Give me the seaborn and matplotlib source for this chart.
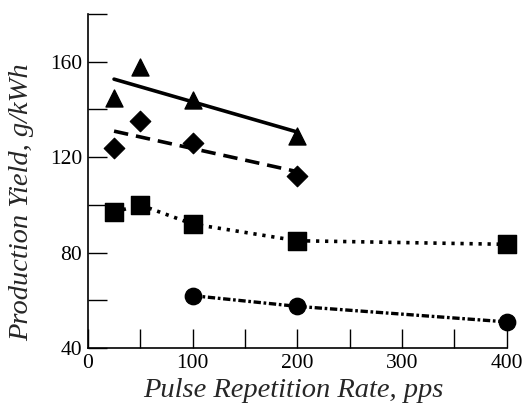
import numpy as np
import pandas as pd
import seaborn as sns
import matplotlib.pyplot as plt
from matplotlib.ticker import MultipleLocator

# data
rate_tri = [25, 50, 100, 200]
yield_tri = [145, 158, 144, 129]

rate_dia = [25, 50, 100, 200]
yield_dia = [124, 135, 126, 112]

rate_sq = [25, 50, 100, 200, 400]
yield_sq = [97, 100, 92, 85, 83.5]

rate_circ = [100, 200, 400]
yield_circ = [62, 57.5, 51]

sns.set_theme(style="ticks")
plt.rcParams['font.family'] = ['Liberation Serif', 'DejaVu Serif']

fig = plt.figure(figsize=(5.23, 4.12), dpi=100)
ax = fig.add_axes([0.168, 0.155, 0.801, 0.811])

# fitted lines (triangles solid, diamonds dashed)
sns.regplot(x=rate_tri, y=yield_tri, ax=ax, scatter=False, ci=None, truncate=True,
            line_kws=dict(color='black', lw=2.6, ls='-'))
sns.regplot(x=rate_dia, y=yield_dia, ax=ax, scatter=False, ci=None, truncate=True,
            line_kws=dict(color='black', lw=2.6, ls=(0, (4, 2.2))))

# connected series
sns.lineplot(x=rate_sq, y=yield_sq, ax=ax, color='black', lw=2.6, ls=(0, (0.9, 1.6)))
sns.lineplot(x=rate_circ, y=yield_circ, ax=ax, color='black', lw=2.4, ls=(0, (2.2, 0.8, 0.8, 0.8)))

# markers
sns.scatterplot(x=rate_tri, y=yield_tri, ax=ax, marker='^', s=150, color='black', edgecolor='black', zorder=5, clip_on=False)
sns.scatterplot(x=rate_dia, y=yield_dia, ax=ax, marker='D', s=110, color='black', edgecolor='black', zorder=5, clip_on=False)
sns.scatterplot(x=rate_sq, y=yield_sq, ax=ax, marker='s', s=170, color='black', edgecolor='black', zorder=5, clip_on=False)
sns.scatterplot(x=rate_circ, y=yield_circ, ax=ax, marker='o', s=140, color='black', edgecolor='black', zorder=5, clip_on=False)

ax.set_xlim(0, 400)
ax.set_ylim(40, 180)
ax.xaxis.set_major_locator(MultipleLocator(100))
ax.xaxis.set_minor_locator(MultipleLocator(50))
ax.yaxis.set_major_locator(MultipleLocator(40))
ax.yaxis.set_minor_locator(MultipleLocator(20))
ax.tick_params(axis='both', which='both', direction='in', length=14, width=1, colors='black')
ax.tick_params(axis='both', which='major', labelsize=15.5, pad=4)

for s in ['top', 'right']:
    ax.spines[s].set_visible(False)
for s in ['left', 'bottom']:
    ax.spines[s].set_linewidth(1.2)
    ax.spines[s].set_color('black')

ax.set_xlabel('Pulse Repetition Rate, pps', fontsize=20.5, style='italic')
ax.set_ylabel('Production Yield, g/kWh', fontsize=20.5, style='italic')
ax.xaxis.set_label_coords(0.49, -0.09)
ax.yaxis.set_label_coords(-0.129, 0.437)

fig.savefig('out.png', dpi=100)
